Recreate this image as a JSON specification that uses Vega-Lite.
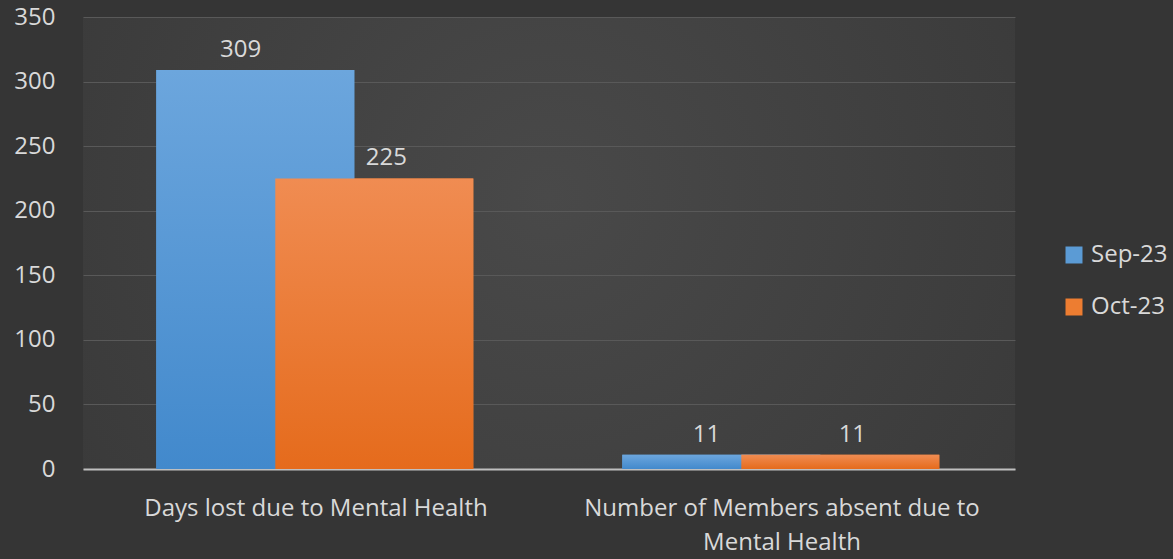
{
  "$schema": "https://vega.github.io/schema/vega-lite/v6.json",
  "width": 932,
  "height": 452,
  "autosize": {"type": "none"},
  "padding": {"left": 83, "top": 17, "right": 158, "bottom": 90},
  "background": "#353535",
  "config": {
    "view": {"stroke": null, "fill": {"gradient": "radial", "x1": 0.5, "y1": 0.45, "r1": 0, "x2": 0.5, "y2": 0.45, "r2": 0.75,
      "stops": [{"offset": 0, "color": "#494949"}, {"offset": 1, "color": "#363636"}]}},
    "font": "Open Sans"
  },
  "data": {
    "values": [
      {"category": "Days lost due to Mental Health", "month": "Sep-23", "value": 309},
      {"category": "Days lost due to Mental Health", "month": "Oct-23", "value": 225},
      {"category": "Number of Members absent due to Mental Health", "month": "Sep-23", "value": 11},
      {"category": "Number of Members absent due to Mental Health", "month": "Oct-23", "value": 11}
    ]
  },
  "encoding": {
    "x": {
      "field": "category", "type": "nominal", "sort": null,
      "scale": {"paddingInner": 0, "paddingOuter": 0},
      "axis": {
        "title": null, "labelAngle": 0, "ticks": false, "tickSize": 0,
        "labelPadding": 27, "labelFontSize": 24, "labelColor": "#d9d9d9",
        "labelLineHeight": 34, "labelLimit": 0,
        "domainColor": "#bfbfbf", "domainWidth": 2, "grid": false,
        "labelExpr": "datum.value == 'Number of Members absent due to Mental Health' ? ['Number of Members absent due to', 'Mental Health'] : datum.value"
      }
    },
    "y": {
      "field": "value", "type": "quantitative",
      "scale": {"domain": [0, 350], "nice": false},
      "axis": {
        "title": null, "values": [0, 50, 100, 150, 200, 250, 300, 350],
        "domain": false, "ticks": false, "tickSize": 0, "labelPadding": 28,
        "labelFontSize": 24, "labelColor": "#d9d9d9",
        "gridColor": "#595959", "gridWidth": 1
      }
    }
  },
  "layer": [
    {
      "mark": {"type": "bar", "width": {"band": 1.664}},
      "encoding": {
        "xOffset": {
          "field": "month", "type": "nominal", "sort": ["Sep-23", "Oct-23"],
          "scale": {"domain": ["Sep-23", "Oct-23"], "paddingInner": 0, "paddingOuter": 0.958, "align": 1}
        },
        "color": {
          "field": "month", "type": "nominal", "sort": ["Sep-23", "Oct-23"],
          "scale": {"range": ["#5b9bd5", "#ed7d31"]},
          "legend": {
            "title": null, "orient": "none", "legendX": 979, "legendY": 226,
            "symbolType": "square", "symbolSize": 289, "symbolStrokeWidth": 0,
            "labelFontSize": 24, "labelColor": "#d9d9d9", "rowPadding": 28, "labelOffset": 5
          }
        }
      }
    },
    {
      "transform": [{"filter": "datum.month == 'Sep-23'"}],
      "mark": {
        "type": "bar", "width": {"band": 1.664},
        "fill": {"gradient": "linear", "x1": 0, "y1": 0, "x2": 0, "y2": 1,
          "stops": [{"offset": 0, "color": "#6ca6dd"}, {"offset": 1, "color": "#4289cc"}]}
      },
      "encoding": {
        "xOffset": {"field": "month", "type": "nominal", "sort": ["Sep-23", "Oct-23"]}
      }
    },
    {
      "transform": [{"filter": "datum.month == 'Oct-23'"}],
      "mark": {
        "type": "bar", "width": {"band": 1.664},
        "fill": {"gradient": "linear", "x1": 0, "y1": 0, "x2": 0, "y2": 1,
          "stops": [{"offset": 0, "color": "#f08c52"}, {"offset": 1, "color": "#e56b1c"}]}
      },
      "encoding": {
        "xOffset": {"field": "month", "type": "nominal", "sort": ["Sep-23", "Oct-23"]}
      }
    },
    {
      "transform": [{"filter": "datum.month == 'Sep-23'"}],
      "mark": {"type": "text", "dy": -8, "baseline": "bottom", "fontSize": 24, "color": "#d9d9d9"},
      "encoding": {
        "x": {"field": "category", "type": "nominal", "sort": null, "bandPosition": 0.338},
        "text": {"field": "value", "type": "quantitative"}
      }
    },
    {
      "transform": [{"filter": "datum.month == 'Oct-23'"}],
      "mark": {"type": "text", "dy": -8, "baseline": "bottom", "fontSize": 24, "color": "#d9d9d9"},
      "encoding": {
        "x": {"field": "category", "type": "nominal", "sort": null, "bandPosition": 0.651},
        "text": {"field": "value", "type": "quantitative"}
      }
    }
  ]
}
